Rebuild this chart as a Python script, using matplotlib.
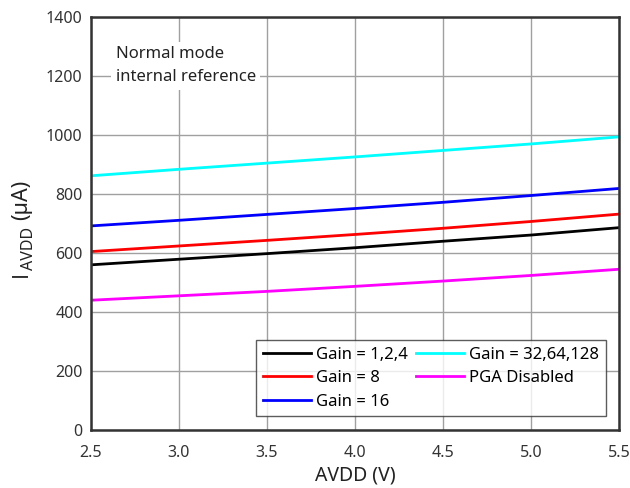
import matplotlib
matplotlib.use("Agg")
import matplotlib.pyplot as plt
from matplotlib.transforms import IdentityTransform

plt.rcParams['font.family'] = ['Noto Sans', 'DejaVu Sans']

avdd = [2.5, 3.0, 3.5, 4.0, 4.5, 5.0, 5.5]
gain_124 = [560, 579, 598, 618, 640, 661, 686]
gain_8 = [605, 624, 643, 663, 684, 707, 732]
gain_16 = [692, 711, 731, 751, 772, 795, 819]
gain_32 = [862, 884, 905, 926, 948, 970, 994]
pga_dis = [440, 455, 470, 487, 505, 524, 545]

labels = ["Gain = 1,2,4", "Gain = 8", "Gain = 16", "Gain = 32,64,128", "PGA Disabled"]
series = [gain_124, gain_8, gain_16, gain_32, pga_dis]
colors = ["#000000", "#ff0000", "#0000ff", "#00ffff", "#ff00ff"]

W, H = 630, 488
fig = plt.figure(figsize=(W / 100, H / 100), dpi=100)
ax = fig.add_axes([0.1444, 0.1189, 0.838, 0.846])

for s, c, l in zip(series, colors, labels):
    ax.plot(avdd, s, color=c, lw=2, label=l)

ax.set_xlim(2.5, 5.5)
ax.set_ylim(0, 1400)
ax.set_xticks([2.5, 3.0, 3.5, 4.0, 4.5, 5.0, 5.5])
ax.set_xticklabels(["2.5", "3.0", "3.5", "4.0", "4.5", "5.0", "5.5"])
ax.set_yticks(range(0, 1401, 200))
ax.grid(True, color="#a0a0a0", lw=1)
ax.set_axisbelow(True)
ax.tick_params(length=0, labelsize=11.5, colors="#333333", pad=6)
ax.tick_params(axis="x", pad=11)
for sp in ax.spines.values():
    sp.set_linewidth(1.8)
    sp.set_color("#333333")

ax.set_xlabel("AVDD (V)", fontsize=14, color="#222222", labelpad=3)

# y label composed of pieces: I, subscript AVDD, (µA)
tr = IdentityTransform()
lab_kw = dict(transform=tr, rotation=90, rotation_mode="anchor",
              ha="left", va="baseline", color="#222222")
fig.text(27, H - 277, "I", fontsize=15.5, family=["Open Sans", "DejaVu Sans"], **lab_kw)
fig.text(33, H - 270, "AVDD", fontsize=11.5, **lab_kw)
fig.text(27, H - 220, "(µA)", fontsize=15.5, **lab_kw)

ax.text(2.64, 1235, "Normal mode\ninternal reference", fontsize=12, color="#222222",
        linespacing=1.6, va="center", ha="left",
        bbox=dict(facecolor="white", edgecolor="none", pad=3))

leg = ax.legend(ncol=2, loc="lower right", bbox_to_anchor=(0.975, 0.034),
                borderaxespad=0,
                fontsize=12, frameon=True, fancybox=False, edgecolor="#333333",
                handlelength=2.9, columnspacing=0.5, labelspacing=0.45,
                borderpad=0.38, handletextpad=0.3)
leg.get_frame().set_linewidth(1)

fig.savefig("out.png", dpi=100)
